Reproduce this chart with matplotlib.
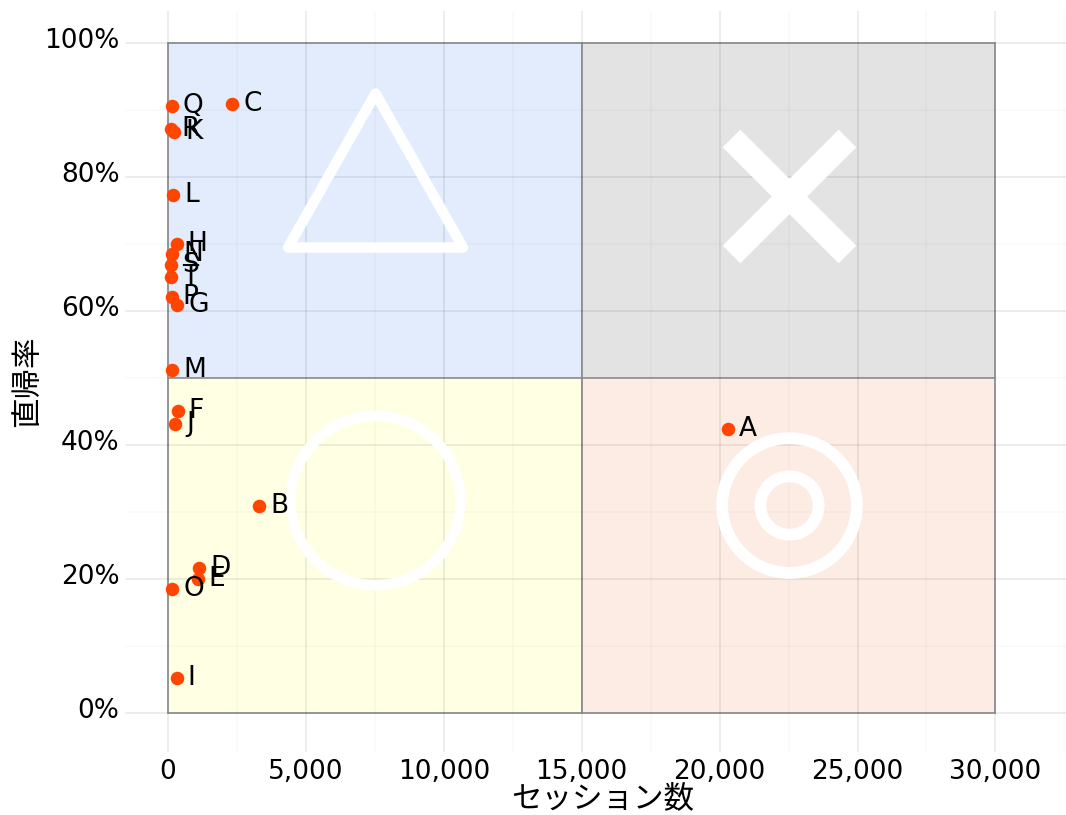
import matplotlib
matplotlib.use("Agg")
import matplotlib.pyplot as plt
import matplotlib.patches as patches
from matplotlib.markers import MarkerStyle
from matplotlib.path import Path
from matplotlib.ticker import FuncFormatter, MultipleLocator
from matplotlib.transforms import ScaledTranslation

plt.rcParams['font.family'] = ['DejaVu Sans', 'Noto Sans CJK JP']

# data
names = ["A", "B", "C", "D", "E", "F", "G", "H", "I", "J",
         "K", "L", "M", "N", "O", "P", "Q", "R", "S", "T"]
sessions = [20300, 3300, 2320, 1120, 1070, 350, 340, 310, 310, 250,
            230, 190, 160, 160, 150, 130, 130, 100, 110, 100]
bounce = [42.4, 30.9, 90.9, 21.6, 19.9, 45.1, 60.9, 70.0, 5.2, 43.1,
          86.7, 77.3, 51.1, 68.5, 18.5, 62.1, 90.6, 87.2, 66.9, 65.0]

x_split = 15000
x_max = 30000
y_split = 50
y_max = 100

# quadrant colours: (x0, y0) -> colour
quad_colors = {(0, y_split): "#e3ecfd", (x_split, y_split): "#e3e3e3",
               (0, 0): "#ffffe3", (x_split, 0): "#fdece3"}

fig = plt.figure(figsize=(10.66, 8.15), dpi=100)
ax = fig.add_axes([0.1173, 0.0773, 0.8827, 0.9092])
ax.set_xlim(-1560, 32560)
ax.set_ylim(-5.9, 104.8)

for (x0, y0), c in quad_colors.items():
    rect = patches.Rectangle((x0, y0), x_split, y_split, facecolor=c,
                             edgecolor="#9a9a9a", linewidth=1.3, zorder=1)
    ax.add_patch(rect)

# grid on top of the quadrants
ax.xaxis.set_major_locator(MultipleLocator(5000))
ax.xaxis.set_minor_locator(MultipleLocator(2500))
ax.yaxis.set_major_locator(MultipleLocator(20))
ax.yaxis.set_minor_locator(MultipleLocator(10))
ax.set_axisbelow(False)
ax.grid(True, which="major", color="black", alpha=0.09, linewidth=1.1, zorder=2)
ax.grid(True, which="minor", color="black", alpha=0.025, linewidth=1.1, zorder=2)

# quadrant symbols
cx_left = x_split / 2
cx_right = x_split + (x_max - x_split) / 2
tri = Path([(-0.5, -0.44), (0.5, -0.44), (0, 0.44), (-0.5, -0.44)],
           [Path.MOVETO, Path.LINETO, Path.LINETO, Path.CLOSEPOLY])
ax.plot(cx_left, y_split + 31, marker=MarkerStyle(tri, joinstyle="miter"),
        markersize=126, markerfacecolor="none", markeredgecolor="white",
        markeredgewidth=7.5, zorder=3)
ax.plot(cx_right, y_split + 27.2, marker="x", markersize=83, markeredgecolor="white",
        markeredgewidth=18, zorder=3)
ax.plot(cx_left, y_split - 18.2, marker="o", markersize=122, markerfacecolor="none",
        markeredgecolor="white", markeredgewidth=7.5, zorder=3)
ax.plot(cx_right, y_split - 19, marker="o", markersize=97, markerfacecolor="none",
        markeredgecolor="white", markeredgewidth=8.5, zorder=3)
ax.plot(cx_right, y_split - 19, marker="o", markersize=42, markerfacecolor="none",
        markeredgecolor="white", markeredgewidth=8.5, zorder=3)

# points and labels
ax.scatter(sessions, bounce, s=95, color="#ff4500", linewidths=0, zorder=4)
for n, xv, yv in zip(names, sessions, bounce):
    ax.annotate(n, (xv, yv), xytext=(11, 0), textcoords="offset pixels",
                va="center", ha="left", fontsize=19, color="black", zorder=5)

ax.xaxis.set_major_formatter(FuncFormatter(lambda v, p: f"{int(v):,}"))
ax.yaxis.set_major_formatter(FuncFormatter(lambda v, p: f"{int(v)}%"))
ax.set_xticks(range(0, x_max + 1, 5000))
ax.set_yticks(range(0, y_max + 1, 20))
ax.tick_params(axis="both", which="both", length=0, labelsize=19, colors="black")
ax.tick_params(axis="x", pad=5)
ax.tick_params(axis="y", pad=4)
for lab in ax.get_yticklabels():
    lab.set_transform(lab.get_transform() + ScaledTranslation(0, 0.05, fig.dpi_scale_trans))

for s in ax.spines.values():
    s.set_visible(False)

ax.set_xlabel("セッション数", fontsize=22)
ax.set_ylabel("直帰率", fontsize=22)
ax.xaxis.set_label_coords(0.508, -0.044)
ax.yaxis.set_label_coords(-0.088, 0.5)

fig.savefig("out.png", dpi=100)
